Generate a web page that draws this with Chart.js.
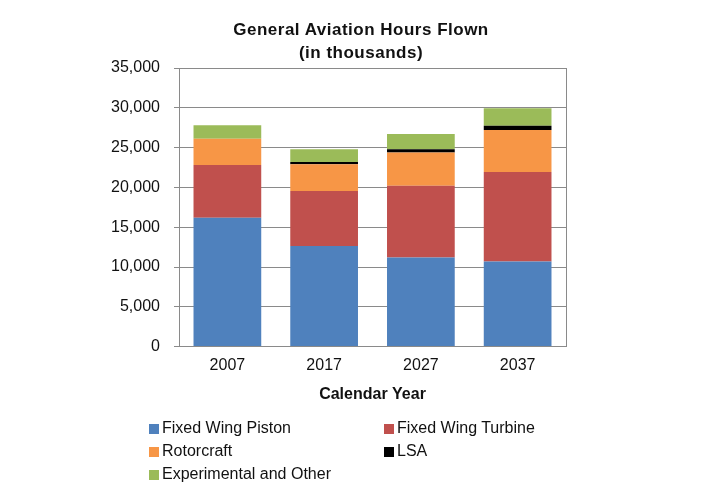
<!DOCTYPE html>
<html>
<head>
<meta charset="utf-8">
<script src="https://cdn.jsdelivr.net/npm/chart.js@4"></script>
<style>
  body { margin: 0; background: #fff; }
  #wrap { position: relative; width: 713px; height: 484px; font-family: "Liberation Sans", Arial, sans-serif; }
  #title { position: absolute; left: 0; top: 18px; width: 722px; text-align: center; font-weight: bold; font-size: 17px; line-height: 23px; letter-spacing: 0.5px; color: #111; }
  #legend { position: absolute; left: 149px; top: 419px; display: grid; grid-template-columns: 235px 235px; grid-auto-rows: 23px; font-size: 16px; color: #111; }
  #legend span.box { display: inline-block; width: 10px; height: 10px; margin-right: 3px; vertical-align: -1px; }
</style>
</head>
<body>
<div id="wrap">
  <canvas id="chart" width="713" height="484"></canvas>
  <div id="title">General Aviation Hours Flown<br>(in thousands)</div>
  <div id="legend"></div>
</div>
<script>
// valores en miles de horas
const years = ['2007', '2017', '2027', '2037'];
const piston = [16200, 12650, 11200, 10700];
const turbine = [6600, 6910, 9000, 11250];
const rotorcraft = [3300, 3340, 4200, 5250];
const lsa = [0, 300, 400, 550];
const experimental = [1700, 1600, 1900, 2200];

const gray = '#8a8a8a';
const txt = '#111';

const ctx = document.getElementById('chart');
const myChart = new Chart(ctx, {
    type: 'bar',
    data: {
        labels: years,
        datasets: [
            { label: 'Fixed Wing Piston', data: piston, backgroundColor: '#4f81bd' },
            { label: 'Fixed Wing Turbine', data: turbine, backgroundColor: '#c0504d' },
            { label: 'Rotorcraft', data: rotorcraft, backgroundColor: '#f79646' },
            { label: 'LSA', data: lsa, backgroundColor: '#000000' },
            { label: 'Experimental and Other', data: experimental, backgroundColor: '#9bbb59' }
        ]
    },
    options: {
        responsive: false,
        animation: false,
        categoryPercentage: 1,
        barPercentage: 0.7,
        layout: { padding: { top: 68, left: 0, right: 147, bottom: 80 } },
        plugins: {
            legend: { display: false },
            tooltip: { enabled: false }
        },
        font: { family: '"Liberation Sans", Arial, sans-serif', size: 16 },
        scales: {
            x: {
                stacked: true,
                grid: { display: false, drawTicks: false },
                border: { color: gray },
                ticks: { color: txt, padding: 9, font: { size: 16 } },
                title: {
                    display: true,
                    text: 'Calendar Year',
                    color: txt,
                    font: { size: 16, weight: 'bold' },
                    padding: { top: 1, bottom: 0 }
                }
            },
            y: {
                stacked: true,
                min: 0,
                max: 35000,
                ticks: {
                    stepSize: 5000,
                    color: txt,
                    padding: 14,
                    font: { size: 16 },
                    callback: (v) => v.toLocaleString('en-US')
                },
                grid: { color: gray, tickLength: 5 },
                border: { color: gray },
                afterFit: (scale) => { scale.width = 179; }
            },
            y2: {
                position: 'right',
                grid: { display: false },
                ticks: { display: false },
                border: { color: gray },
                afterFit: (scale) => { scale.width = 0; }
            }
        }
    }
});

// leyenda en html, dos columnas
const legend = document.getElementById('legend');
myChart.data.datasets.forEach((d) => {
    const item = document.createElement('div');
    item.innerHTML = `<span class="box" style="background:${d.backgroundColor}"></span>${d.label}`;
    legend.appendChild(item);
});
</script>
</body>
</html>
